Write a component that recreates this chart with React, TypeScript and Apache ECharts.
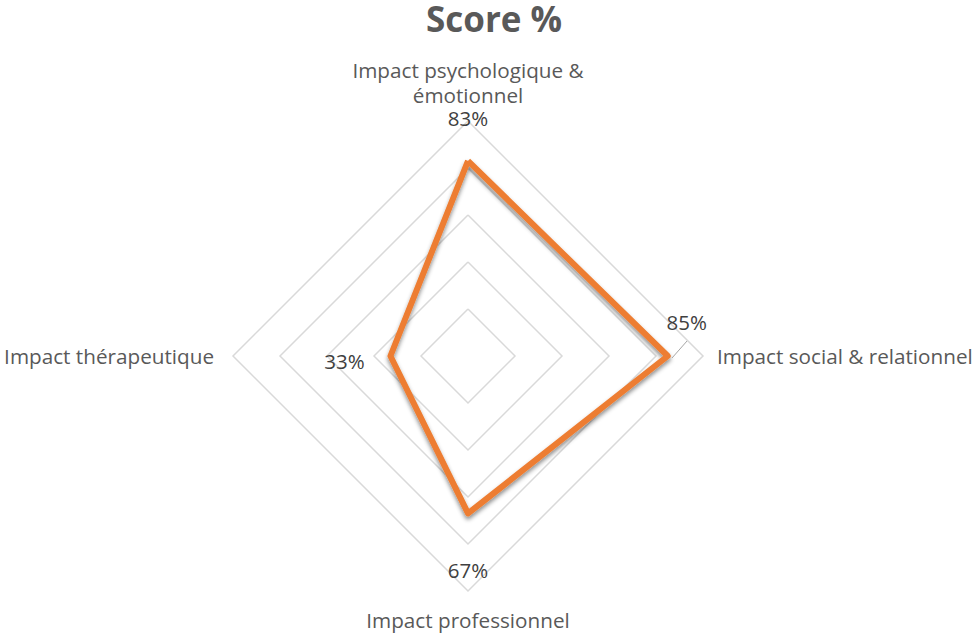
import React, { useEffect, useRef } from "react";
import * as echarts from "echarts";

// Data in Excel (clockwise from top) order
const categories = [
  "Impact psychologique & émotionnel",
  "Impact social & relationnel",
  "Impact professionnel",
  "Impact thérapeutique",
];
const scores = [0.83, 0.85, 0.67, 0.33];
const scoreLabels = scores.map((v) => Math.round(v * 100) + "%");
const radarMax = 1;
const splitCount = 5;

// Styling (label offsets from data vertex, in px)
const labelOffsets = [
  [0, -43],
  [19, -34],
  [0, 57],
  [-46, 5],
];

const CX = 468;
const CY = 356;
const R = 235;
const FONT = "'Open Sans', sans-serif";
const NAME_SIZE = 20.7;

export default function App() {
  const ref = useRef<HTMLDivElement>(null);
  useEffect(() => {
    if (!ref.current) return;
    const chart = echarts.init(ref.current, undefined, { renderer: "svg" });
    // ECharts radar goes counter-clockwise; reorder to get clockwise layout
    const order = [0, ...categories.map((_, i) => i).slice(1).reverse()];
    const indicators = order.map((i) => ({ name: categories[i], max: radarMax, min: 0 }));
    const values = order.map((i) => scores[i]);

    const labelGraphics: any[] = scores.map((v, i) => {
      const ang = Math.PI / 2 - (i * 2 * Math.PI) / categories.length;
      const px = CX + R * (v / radarMax) * Math.cos(ang);
      const py = CY - R * (v / radarMax) * Math.sin(ang);
      return {
        type: "text",
        x: px + labelOffsets[i][0],
        y: py + labelOffsets[i][1],
        style: {
          text: scoreLabels[i],
          fill: "#404040",
          font: `20.5px ${FONT}`,
          textAlign: "center",
          textVerticalAlign: "middle",
        },
        z: 10,
      };
    });

    const nameStyle = {
      color: "#595959",
      fontFamily: FONT,
      fontSize: NAME_SIZE,
      lineHeight: 25,
    };

    chart.setOption({
      animation: false,
      backgroundColor: "#ffffff",
      title: {
        text: "Score %",
        left: 489,
        textAlign: "center",
        top: -2,
        textStyle: {
          fontFamily: FONT,
          fontSize: 35,
          lineHeight: 30,
          fontWeight: "bold",
          color: "#595959",
        },
      },
      radar: {
        center: [CX, CY],
        radius: R,
        startAngle: 90,
        splitNumber: splitCount,
        shape: "polygon",
        indicator: indicators,
        nameGap: 14,
        axisName: {
          ...nameStyle,
          rich: {
            low: { ...nameStyle, padding: [5, 0, 0, 0] },
            side: { ...nameStyle, padding: [0, 5, 0, 0] },
          },
          formatter: (name: string) => {
            if (name.length > 30) return name.replace(" émotionnel", "\némotionnel");
            if (name === categories[2]) return `{low|${name}}`;
            if (name === categories[3]) return `{side|${name}}`;
            return name;
          },
        },
        axisLine: { show: false },
        splitArea: { show: false },
        splitLine: { lineStyle: { color: "#d9d9d9", width: 1.5 } },
        axisTick: { show: false },
        axisLabel: { show: false },
      },
      series: [
        {
          type: "radar",
          symbol: "none",
          data: [
            {
              value: values,
              name: "Score %",
              lineStyle: {
                color: "#ED7D31",
                width: 6,
                shadowColor: "rgba(0,0,0,0.45)",
                shadowBlur: 4,
                shadowOffsetY: 3,
              },
            },
          ],
        },
      ],
      graphic: [
        ...labelGraphics,
        {
          type: "line",
          shape: { x1: 687, y1: 341, x2: 672, y2: 358 },
          style: { stroke: "#a6a6a6", lineWidth: 1 },
          z: 10,
        },
      ],
    });
    return () => chart.dispose();
  }, []);
  return (
    <div
      ref={ref}
      style={{ position: "fixed", left: 0, top: 0, width: 978, height: 636 }}
    />
  );
}
